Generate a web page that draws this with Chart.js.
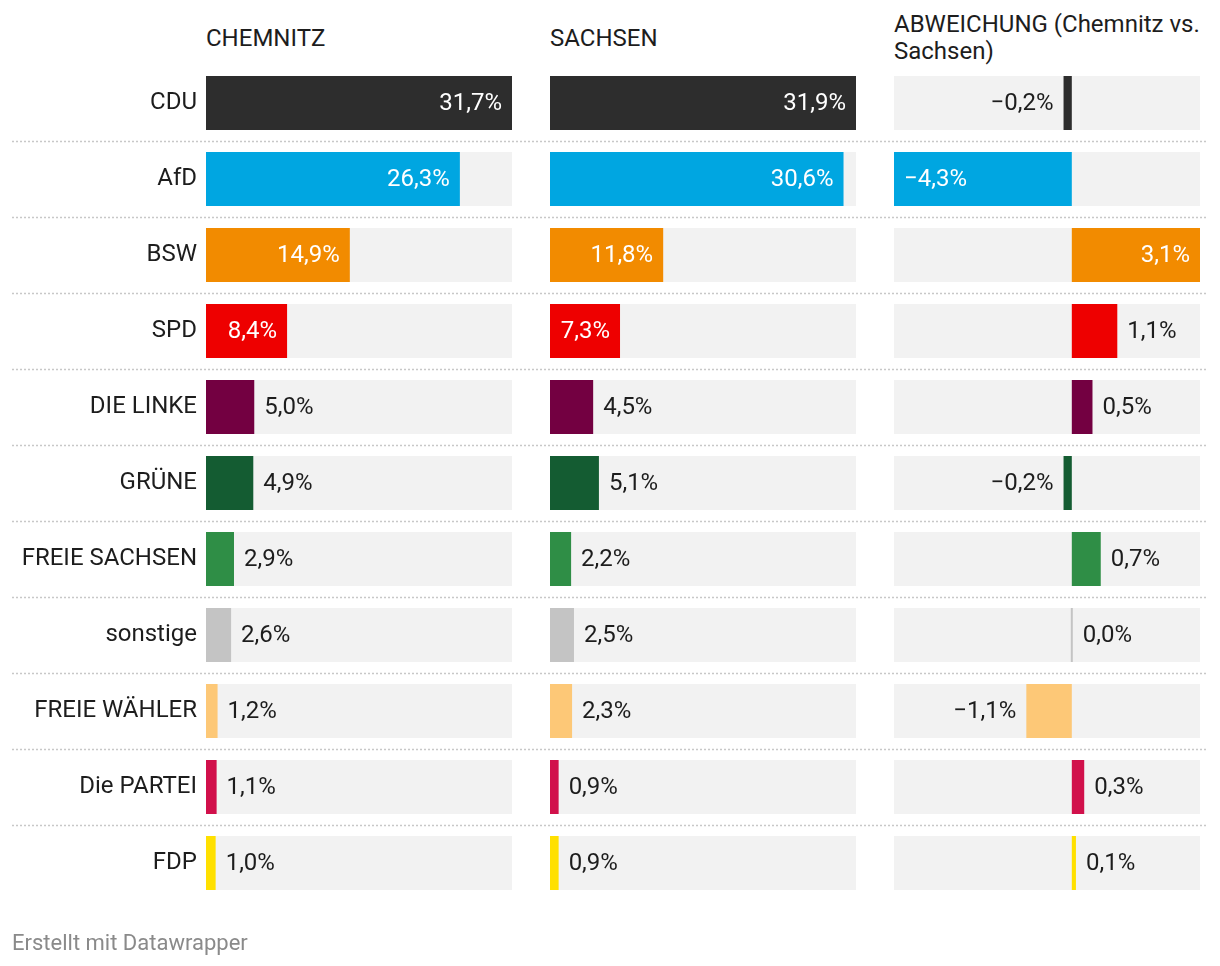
<!DOCTYPE html>
<html>
<head>
<meta charset="utf-8">
<script src="https://cdn.jsdelivr.net/npm/chart.js@4"></script>
<style>
  html, body { margin: 0; padding: 0; background: #fff; }
  body { width: 1220px; height: 966px; position: relative; overflow: hidden; font-family: Roboto, sans-serif; color: #1d1d1d; }
  canvas { position: absolute; top: 0; }
  .hdr { position: absolute; font-size: 24px; line-height: 27px; color: #1d1d1d; white-space: nowrap; }
  .foot { position: absolute; left: 12px; top: 932px; font-size: 22px; line-height: 22px; color: #8a8a8a; }
</style>
</head>
<body>
<div class="hdr" style="left:206px; top:25px;">CHEMNITZ</div>
<div class="hdr" style="left:550px; top:25px;">SACHSEN</div>
<div class="hdr" style="left:894px; top:11px;">ABWEICHUNG (Chemnitz vs.<br>Sachsen)</div>
<canvas id="c1" width="531" height="966" style="left:0px"></canvas>
<canvas id="c2" width="344" height="966" style="left:531px"></canvas>
<canvas id="c3" width="345" height="966" style="left:875px"></canvas>
<div class="foot">Erstellt mit Datawrapper</div>
<script>
const parties = ["CDU", "AfD", "BSW", "SPD", "DIE LINKE", "GRÜNE", "FREIE SACHSEN", "sonstige", "FREIE WÄHLER", "Die PARTEI", "FDP"];
const chemnitz = [31.7, 26.3, 14.9, 8.4, 5.0, 4.9, 2.9, 2.6, 1.2, 1.1, 1.0];
const sachsen = [31.9, 30.6, 11.8, 7.3, 4.5, 5.1, 2.2, 2.5, 2.3, 0.9, 0.9];
const abweichung = [-0.2, -4.3, 3.1, 1.1, 0.5, -0.2, 0.7, 0.0, -1.1, 0.3, 0.1];
const partyColors = ["#2d2d2d", "#00a6e1", "#f28b00", "#ee0000", "#730041", "#145c32", "#2f8e46", "#c4c4c4", "#fdc877", "#d1104b", "#ffe000"];
const darkBars = [true, true, true, true, true, true, true, false, false, true, false];

const TRACK = "#f2f2f2";
const TEXT = "#1d1d1d";
const FONT = "24px Roboto";

function fmt(v) {
  const s = Math.abs(v).toFixed(1).replace(".", ",") + "%";
  return (v < 0 ? "\u2212" : "") + s;
}

const labelsPlugin = {
  id: "valueLabels",
  afterDatasetsDraw(chart) {
    const ctx = chart.ctx;
    const meta = chart.getDatasetMeta(0);
    const values = chart.data.datasets[0].data;
    ctx.save();
    ctx.font = FONT;
    ctx.textBaseline = "middle";
    meta.data.forEach((bar, i) => {
      const v = values[i];
      const txt = fmt(v);
      const tw = ctx.measureText(txt).width;
      const bw = Math.abs(bar.x - bar.base);
      const neg = v < 0;
      const inside = bw >= tw + 16;
      const y = bar.y + 1;
      if (inside) {
        ctx.fillStyle = darkBars[i] ? "#ffffff" : TEXT;
        if (neg) { ctx.textAlign = "left"; ctx.fillText(txt, bar.x + 10, y); }
        else { ctx.textAlign = "right"; ctx.fillText(txt, bar.x - 10, y); }
      } else {
        ctx.fillStyle = TEXT;
        if (neg) { ctx.textAlign = "right"; ctx.fillText(txt, Math.min(bar.x, bar.base) - 10, y); }
        else { ctx.textAlign = "left"; ctx.fillText(txt, Math.max(bar.x, bar.base) + 10, y); }
      }
    });
    ctx.restore();
  }
};

const sepPlugin = {
  id: "separators",
  beforeDatasetsDraw(chart, args, opts) {
    const ctx = chart.ctx;
    const ys = chart.scales.y;
    const x0 = Math.max(0, 12 - opts.offset);
    const x1 = Math.min(chart.width, 1208 - opts.offset);
    ctx.save();
    ctx.strokeStyle = "#c8c8c8";
    ctx.lineWidth = 1.5;
    ctx.setLineDash([2, 2]);
    ctx.lineDashOffset = opts.offset % 4;
    for (let i = 1; i < parties.length; i++) {
      const y = Math.round((ys.getPixelForValue(i - 1) + ys.getPixelForValue(i)) / 2) + 0.5;
      ctx.beginPath();
      ctx.moveTo(x0, y);
      ctx.lineTo(x1, y);
      ctx.stroke();
    }
    ctx.restore();
  }
};

function makeChart(id, values, min, max, padding, showLabels, offset) {
  return new Chart(document.getElementById(id), {
    type: "bar",
    data: {
      labels: parties,
      datasets: [
        {
          data: values,
          backgroundColor: partyColors,
          grouped: false,
          order: 1,
          categoryPercentage: 1,
          barPercentage: 54 / 76,
          minBarLength: 2,
          borderWidth: 0
        },
        {
          data: parties.map(() => [min, max]),
          backgroundColor: TRACK,
          grouped: false,
          order: 2,
          categoryPercentage: 1,
          barPercentage: 54 / 76,
          borderWidth: 0
        }
      ]
    },
    options: {
      indexAxis: "y",
      responsive: false,
      animation: false,
      devicePixelRatio: 1,
      layout: { padding: padding },
      plugins: {
        legend: { display: false },
        tooltip: { enabled: false },
        separators: { offset: offset }
      },
      scales: {
        x: { display: false, min: min, max: max },
        y: {
          display: showLabels,
          grid: { display: false, drawTicks: false },
          border: { display: false },
          ticks: { color: TEXT, font: { family: "Roboto", size: 24 }, padding: 9 },
          afterFit: (s) => { if (showLabels) s.width = 206; }
        }
      }
    },
    plugins: [sepPlugin, labelsPlugin]
  });
}

makeChart("c1", chemnitz, 0, Math.max(...chemnitz), { left: 0, right: 19, top: 65, bottom: 65 }, true, 0);
makeChart("c2", sachsen, 0, Math.max(...sachsen), { left: 19, right: 19, top: 65, bottom: 65 }, false, 531);
makeChart("c3", abweichung, Math.min(...abweichung), Math.max(...abweichung), { left: 19, right: 20, top: 65, bottom: 65 }, false, 875);
</script>
</body>
</html>
